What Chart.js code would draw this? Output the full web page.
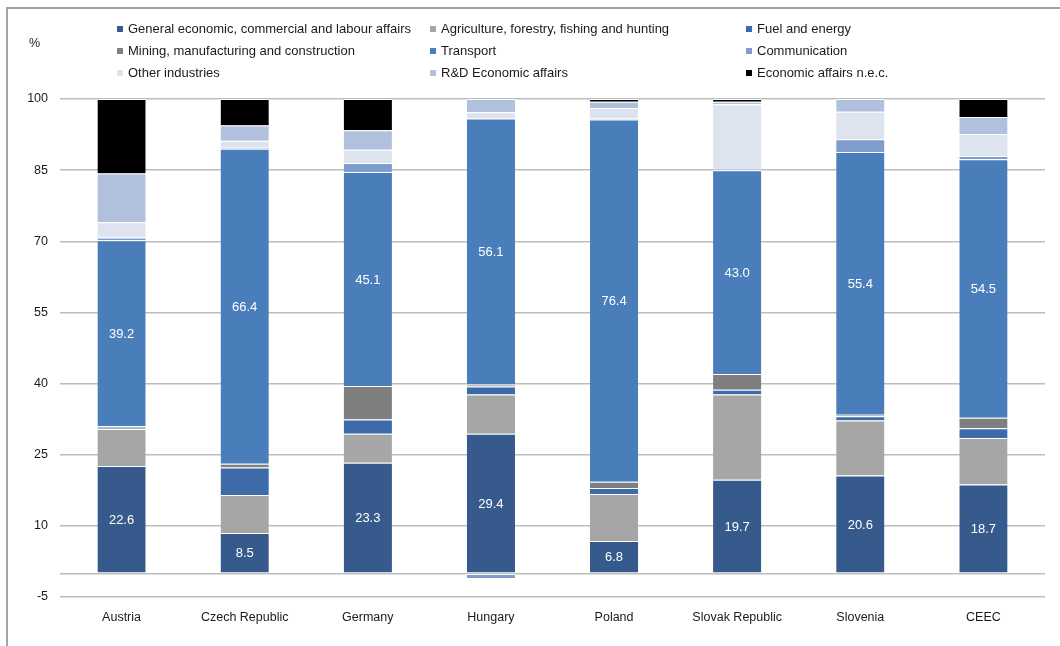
<!DOCTYPE html>
<html>
<head>
<meta charset="utf-8">
<script src="https://cdn.jsdelivr.net/npm/chart.js@4.4.1/dist/chart.umd.min.js"></script>
<style>
  html, body { margin: 0; padding: 0; background: #ffffff; }
  #wrap { position: relative; width: 1060px; height: 646px; overflow: hidden; }
  #frame { position: absolute; left: 6px; top: 7px; width: 1100px; height: 700px;
           border-left: 2px solid #a3a3a3; border-top: 2px solid #a3a3a3; }
  #c { position: absolute; left: 0; top: 0; }
</style>
</head>
<body>
<div id="wrap">
  <div id="frame"></div>
  <canvas id="c" width="1060" height="646"></canvas>
</div>
<script>
// Economic affairs spending by function, share of total (%)
const categories = ['Austria', 'Czech Republic', 'Germany', 'Hungary', 'Poland', 'Slovak Republic', 'Slovenia', 'CEEC'];

const generalAffairs = [22.6, 8.5, 23.3, 29.4, 6.8, 19.7, 20.6, 18.7];
const agriculture    = [7.8, 8.0, 6.1, 8.3, 9.9, 18.0, 11.6, 9.8];
const fuelEnergy     = [0.3, 5.8, 3.0, 1.7, 1.3, 1.0, 0.9, 2.1];
const mining         = [0.3, 0.8, 7.1, 0.4, 1.3, 3.3, 0.3, 2.2];
const transport      = [39.2, 66.4, 45.1, 56.1, 76.4, 43.0, 55.4, 54.5];
const communication  = [0.6, 0.2, 1.9, -1.0, 0.2, 0.2, 2.7, 0.7];
const otherIndustries = [3.2, 1.5, 2.8, 1.3, 2.2, 13.7, 5.8, 4.6];
const rdEconomic     = [10.3, 3.2, 4.1, 2.8, 1.3, 0.5, 2.7, 3.6];
const affairsNec     = [15.7, 5.6, 6.6, 0.0, 0.6, 0.6, 0.0, 3.8];

const yTickValues = [-5, 10, 25, 40, 55, 70, 85, 100];

const seriesNames = [
  'General economic, commercial and labour affairs',
  'Agriculture, forestry, fishing and hunting',
  'Fuel and energy',
  'Mining, manufacturing and construction',
  'Transport',
  'Communication',
  'Other industries',
  'R&D Economic affairs',
  'Economic affairs n.e.c.'
];
const seriesValues = [generalAffairs, agriculture, fuelEnergy, mining, transport,
                      communication, otherIndustries, rdEconomic, affairsNec];
const seriesColors = ['#355a8b', '#a6a6a6', '#3d6ba9', '#7f7f7f', '#4a7ebb',
                      '#7f9dcb', '#dde4f0', '#b1c1dd', '#000000'];
// series whose values are printed inside the bars
const labelledSeries = [0, 4];

const FONT = '"Liberation Sans", Arial, sans-serif';

const datasets = seriesNames.map((name, i) => ({
  label: name,
  data: seriesValues[i],
  backgroundColor: seriesColors[i],
  borderColor: '#ffffff',
  borderWidth: { top: 1, bottom: 0, left: 0, right: 0 },
  borderSkipped: false,
  categoryPercentage: 0.8,
  barPercentage: 0.49
}));

// three-column legend above the plot, plus the unit label
const legendGrid = {
  id: 'legendGrid',
  afterDraw(chart) {
    const ctx = chart.ctx;
    const colX = [120, 433, 749];
    const rowY = [29, 51, 73];
    ctx.save();
    ctx.font = '13px ' + FONT;
    ctx.textBaseline = 'middle';
    ctx.textAlign = 'left';
    chart.data.datasets.forEach((ds, i) => {
      const col = i % 3, row = Math.floor(i / 3);
      const x = colX[col], y = rowY[row];
      ctx.fillStyle = ds.backgroundColor;
      ctx.fillRect(x - 3, y - 3, 6, 6);
      ctx.fillStyle = '#1a1a1a';
      ctx.fillText(ds.label, x + 8, y + 0.5);
    });
    ctx.font = '12.5px ' + FONT;
    ctx.fillStyle = '#1a1a1a';
    ctx.fillText('%', 29, 44);
    ctx.restore();
  }
};

// value labels inside selected segments
const segmentLabels = {
  id: 'segmentLabels',
  afterDatasetsDraw(chart) {
    const ctx = chart.ctx;
    ctx.save();
    ctx.font = '13px ' + FONT;
    ctx.fillStyle = '#ffffff';
    ctx.textAlign = 'center';
    ctx.textBaseline = 'middle';
    labelledSeries.forEach(di => {
      const meta = chart.getDatasetMeta(di);
      meta.data.forEach((el, j) => {
        const v = chart.data.datasets[di].data[j];
        ctx.fillText(v.toFixed(1), el.x, (el.y + el.base) / 2 + 1);
      });
    });
    ctx.restore();
  }
};

new Chart(document.getElementById('c'), {
  type: 'bar',
  data: { labels: categories, datasets },
  options: {
    responsive: false,
    devicePixelRatio: 1,
    animation: false,
    layout: { padding: { top: 99, right: 15, bottom: 0, left: 0 } },
    plugins: {
      legend: { display: false },
      tooltip: { enabled: false }
    },
    scales: {
      x: {
        stacked: true,
        grid: { display: false, drawTicks: false },
        border: { display: false },
        ticks: { color: '#1a1a1a', font: { family: FONT, size: 12.5 }, padding: 13, maxRotation: 0 },
        afterFit(scale) { scale.height = 49; }
      },
      y: {
        stacked: true,
        min: -5,
        max: 100,
        afterBuildTicks(scale) {
          const vals = yTickValues.concat([0]).sort((a, b) => a - b);
          scale.ticks = vals.map(v => ({ value: v }));
        },
        grid: { color: '#bdbdbd', lineWidth: 1.5, drawTicks: false },
        border: { display: false },
        ticks: {
          color: '#1a1a1a',
          font: { family: FONT, size: 12.5 },
          padding: 12,
          callback: v => (yTickValues.includes(v) ? String(v) : '')
        },
        afterFit(scale) { scale.width = 60; }
      }
    }
  },
  plugins: [legendGrid, segmentLabels]
});
</script>
</body>
</html>
